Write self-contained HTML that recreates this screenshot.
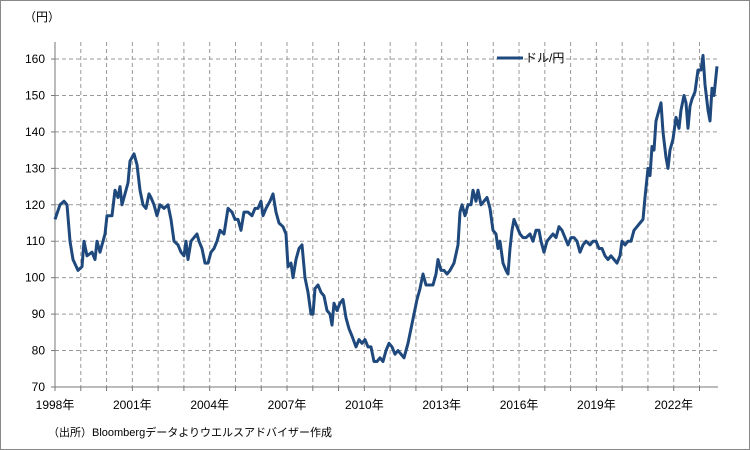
<!DOCTYPE html>
<html><head><meta charset="utf-8"><style>
html,body{margin:0;padding:0;background:#fff}
svg{display:block;font-family:"Liberation Sans","Noto Sans CJK JP",sans-serif}
</style></head><body>
<svg id="s" width="750" height="450" viewBox="0 0 750 450">
<rect x="0.5" y="0.5" width="749" height="449" fill="#fff" stroke="#888"/>
<g id="grid" stroke="#999" stroke-dasharray="4,3" stroke-width="1"></g>
<g id="ax" stroke="#777" stroke-width="1"></g>
<g id="lab" font-size="12" fill="#000"></g>
<text x="24" y="21" font-size="12">（円）</text>
<line x1="497" y1="58" x2="523" y2="58" stroke="#1f497d" stroke-width="3"/>
<text x="525" y="62" font-size="12">ドル/円</text>
<text x="48" y="436" font-size="11">（出所）Bloombergデータよりウエルスアドバイザー作成</text>
<polyline id="ln" fill="none" stroke="#1f497d" stroke-width="3" stroke-linejoin="round"/>
</svg>
<script>
var NS="http://www.w3.org/2000/svg";
function el(p,t,a,txt){var e=document.createElementNS(NS,t);for(var k in a)e.setAttribute(k,a[k]);if(txt)e.textContent=txt;document.getElementById(p).appendChild(e);}
var X0=55,X1=718,Y0=42,Y70=387,py=3.644;
function Y(v){return Y70-(v-70)*py;}
for(var v=80;v<=160;v+=10){el("grid","line",{x1:X0,x2:X1,y1:Y(v),y2:Y(v)});}
for(var i=1;i<=26;i++){var x=X0+i*25.78;if(x<=X1+1)el("grid","line",{x1:x,x2:x,y1:Y0,y2:Y70});}
el("ax","line",{x1:X0,x2:X0,y1:Y0,y2:Y70});
el("ax","line",{x1:X0,x2:X1,y1:Y70,y2:Y70});
for(var v=70;v<=160;v+=10){el("ax","line",{x1:X0-4,x2:X0,y1:Y(v),y2:Y(v)});el("lab","text",{x:45,y:Y(v)+4,"text-anchor":"end"},String(v));}
for(var i=0;i<=25;i++){var x=X0+i*25.78;el("ax","line",{x1:x,x2:x,y1:Y70,y2:Y70+4});}
for(var i=0;i<=24;i+=3){var x=X0+i*25.78;el("lab","text",{x:x,y:409,"text-anchor":"middle"},(1998+i)+"年");}
var d=[55,116,60,120,64,121,67,120,70,110,73,105,78,102,82,103,84,110,87,106,92,107,95,105,97,110,100,107,105,112,107,117,112,117,115,124,118,122,120,125,122,120,125,123,128,126,130,132,134,134,137,131,140,124,143,120,146,119,149,123,151,122,154,120,157,117,160,120,164,119,168,120,171,116,174,110,178,109,181,107,184,106,186,110,188,105,191,110,194,111,197,112,199,110,202,108,205,104,208,104,211,107,214,108,217,110,220,113,224,112,228,119,232,118,235,116,238,116,241,113,244,118,248,118,252,117,255,119,258,119,261,121,263,117,266,119,270,121,273,123,276,118,279,115,283,114,286,112,288,103,291,104,293,100,296,105,299,108,302,109,305,100,308,96,311,90,313,90,315,97,318,98,321,96,324,95,327,91,330,90,332,87,334,93,337,91,340,93,343,94,346,89,349,86,352,84,356,81,359,83,362,82,365,83,368,81,371,81,374,77,377,77,380,78,383,77,386,80,389,82,392,81,395,79,398,80,401,79,404,78,408,82,411,86,414,90,417,94,420,97,423,101,426,98,430,98,433,98,436,101,438,105,441,102,444,102,447,101,450,102,454,104,458,109,460,118,462,120,465,117,468,120,471,120,473,124,476,121,478,124,481,120,484,121,487,122,490,119,493,113,496,112,498,108,500,110,503,104,506,102,508,101,510,108,512,113,514,116,517,114,520,112,523,111,526,111,530,112,533,110,536,113,539,113,541,110,544,107,547,110,550,111,553,112,556,111,559,114,562,113,565,111,568,109,571,111,574,111,577,110,580,107,583,109,586,110,590,109,593,110,596,110,599,108,602,108,605,106,608,105,611,106,614,105,617,104,620,106,622,110,625,109,628,110,631,110,634,113,637,114,640,115,643,116,645,122,648,130,650,128,652,136,654,135,656,143,658,145,661,148,663,140,666,133,668,130,670,135,673,138,676,144,679,141,681,146,684,150,686,148,688,141,690,147,692,149,695,151,698,157,701,157,703,161,705,153,708,146,710,143,712,152,714,150,717,158];
var p=[];for(var i=0;i<d.length;i+=2)p.push(d[i]+","+Y(d[i+1]).toFixed(1));
document.getElementById("ln").setAttribute("points",p.join(" "));
</script>
</body></html>
